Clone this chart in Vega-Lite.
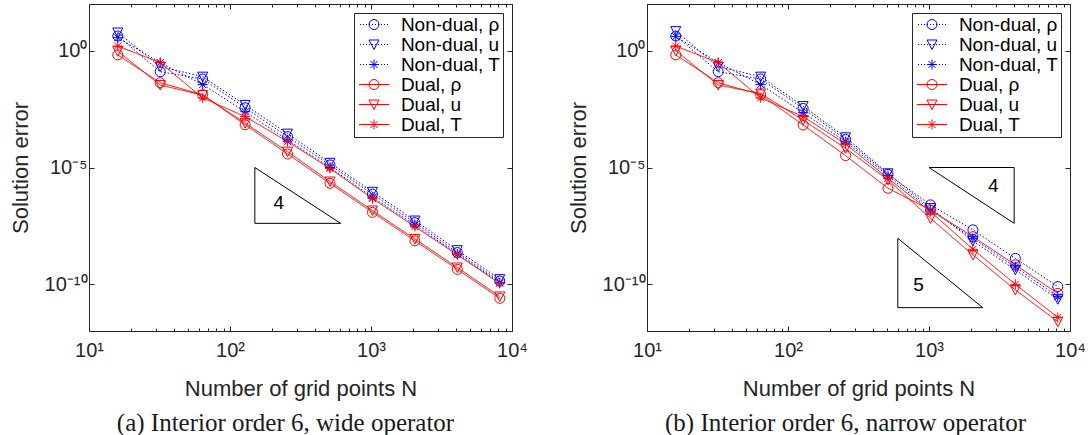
{
 "$schema": "https://vega.github.io/schema/vega-lite/v6.json",
 "autosize": {"type": "pad"},
 "padding": {"left": 8, "top": 3, "right": 5, "bottom": 2},
 "background": "white",
 "datasets": {
  "errs": [
   {"p":"a","s":"Non-dual, ρ","N":16,"e":4.266},{"p":"a","s":"Non-dual, ρ","N":32,"e":1.259e-1},{"p":"a","s":"Non-dual, ρ","N":64,"e":6.166e-2},{"p":"a","s":"Non-dual, ρ","N":128,"e":3.631e-3},{"p":"a","s":"Non-dual, ρ","N":256,"e":2.089e-4},{"p":"a","s":"Non-dual, ρ","N":512,"e":1.288e-5},{"p":"a","s":"Non-dual, ρ","N":1024,"e":7.244e-7},{"p":"a","s":"Non-dual, ρ","N":2048,"e":4.365e-8},{"p":"a","s":"Non-dual, ρ","N":4096,"e":2.291e-9},{"p":"a","s":"Non-dual, ρ","N":8192,"e":1.380e-10},
   {"p":"a","s":"Non-dual, u","N":16,"e":6.026},{"p":"a","s":"Non-dual, u","N":32,"e":2.089e-1},{"p":"a","s":"Non-dual, u","N":64,"e":7.762e-2},{"p":"a","s":"Non-dual, u","N":128,"e":4.786e-3},{"p":"a","s":"Non-dual, u","N":256,"e":2.818e-4},{"p":"a","s":"Non-dual, u","N":512,"e":1.585e-5},{"p":"a","s":"Non-dual, u","N":1024,"e":9.120e-7},{"p":"a","s":"Non-dual, u","N":2048,"e":5.370e-8},{"p":"a","s":"Non-dual, u","N":4096,"e":2.884e-9},{"p":"a","s":"Non-dual, u","N":8192,"e":1.660e-10},
   {"p":"a","s":"Non-dual, T","N":16,"e":3.631},{"p":"a","s":"Non-dual, T","N":32,"e":3.090e-1},{"p":"a","s":"Non-dual, T","N":64,"e":3.548e-2},{"p":"a","s":"Non-dual, T","N":128,"e":2.455e-3},{"p":"a","s":"Non-dual, T","N":256,"e":1.514e-4},{"p":"a","s":"Non-dual, T","N":512,"e":1.0e-5},{"p":"a","s":"Non-dual, T","N":1024,"e":5.370e-7},{"p":"a","s":"Non-dual, T","N":2048,"e":3.467e-8},{"p":"a","s":"Non-dual, T","N":4096,"e":1.995e-9},{"p":"a","s":"Non-dual, T","N":8192,"e":1.175e-10},
   {"p":"a","s":"Dual, ρ","N":16,"e":6.607e-1},{"p":"a","s":"Dual, ρ","N":32,"e":4.266e-2},{"p":"a","s":"Dual, ρ","N":64,"e":1.318e-2},{"p":"a","s":"Dual, ρ","N":128,"e":6.761e-4},{"p":"a","s":"Dual, ρ","N":256,"e":3.802e-5},{"p":"a","s":"Dual, ρ","N":512,"e":2.089e-6},{"p":"a","s":"Dual, ρ","N":1024,"e":1.202e-7},{"p":"a","s":"Dual, ρ","N":2048,"e":7.244e-9},{"p":"a","s":"Dual, ρ","N":4096,"e":4.365e-10},{"p":"a","s":"Dual, ρ","N":8192,"e":2.512e-11},
   {"p":"a","s":"Dual, u","N":16,"e":9.550e-1},{"p":"a","s":"Dual, u","N":32,"e":3.388e-2},{"p":"a","s":"Dual, u","N":64,"e":1.259e-2},{"p":"a","s":"Dual, u","N":128,"e":7.943e-4},{"p":"a","s":"Dual, u","N":256,"e":4.786e-5},{"p":"a","s":"Dual, u","N":512,"e":2.512e-6},{"p":"a","s":"Dual, u","N":1024,"e":1.445e-7},{"p":"a","s":"Dual, u","N":2048,"e":8.710e-9},{"p":"a","s":"Dual, u","N":4096,"e":5.248e-10},{"p":"a","s":"Dual, u","N":8192,"e":3.020e-11},
   {"p":"a","s":"Dual, T","N":16,"e":1.585},{"p":"a","s":"Dual, T","N":32,"e":3.090e-1},{"p":"a","s":"Dual, T","N":64,"e":9.550e-3},{"p":"a","s":"Dual, T","N":128,"e":1.514e-3},{"p":"a","s":"Dual, T","N":256,"e":1.288e-4},{"p":"a","s":"Dual, T","N":512,"e":9.120e-6},{"p":"a","s":"Dual, T","N":1024,"e":4.677e-7},{"p":"a","s":"Dual, T","N":2048,"e":2.951e-8},{"p":"a","s":"Dual, T","N":4096,"e":1.820e-9},{"p":"a","s":"Dual, T","N":8192,"e":1.096e-10},
   {"p":"b","s":"Non-dual, ρ","N":16,"e":4.266},{"p":"b","s":"Non-dual, ρ","N":32,"e":1.259e-1},{"p":"b","s":"Non-dual, ρ","N":64,"e":6.166e-2},{"p":"b","s":"Non-dual, ρ","N":128,"e":3.388e-3},{"p":"b","s":"Non-dual, ρ","N":256,"e":1.585e-4},{"p":"b","s":"Non-dual, ρ","N":512,"e":5.129e-6},{"p":"b","s":"Non-dual, ρ","N":1024,"e":2.512e-7},{"p":"b","s":"Non-dual, ρ","N":2048,"e":2.138e-8},{"p":"b","s":"Non-dual, ρ","N":4096,"e":1.288e-9},{"p":"b","s":"Non-dual, ρ","N":8192,"e":7.943e-11},
   {"p":"b","s":"Non-dual, u","N":16,"e":6.918},{"p":"b","s":"Non-dual, u","N":32,"e":2.089e-1},{"p":"b","s":"Non-dual, u","N":64,"e":7.762e-2},{"p":"b","s":"Non-dual, u","N":128,"e":4.266e-3},{"p":"b","s":"Non-dual, u","N":256,"e":1.950e-4},{"p":"b","s":"Non-dual, u","N":512,"e":5.623e-6},{"p":"b","s":"Non-dual, u","N":1024,"e":1.820e-7},{"p":"b","s":"Non-dual, u","N":2048,"e":7.244e-9},{"p":"b","s":"Non-dual, u","N":4096,"e":4.169e-10},{"p":"b","s":"Non-dual, u","N":8192,"e":2.291e-11},
   {"p":"b","s":"Non-dual, T","N":16,"e":3.981},{"p":"b","s":"Non-dual, T","N":32,"e":3.090e-1},{"p":"b","s":"Non-dual, T","N":64,"e":3.548e-2},{"p":"b","s":"Non-dual, T","N":128,"e":2.239e-3},{"p":"b","s":"Non-dual, T","N":256,"e":1.259e-4},{"p":"b","s":"Non-dual, T","N":512,"e":4.467e-6},{"p":"b","s":"Non-dual, T","N":1024,"e":1.514e-7},{"p":"b","s":"Non-dual, T","N":2048,"e":9.333e-9},{"p":"b","s":"Non-dual, T","N":4096,"e":5.495e-10},{"p":"b","s":"Non-dual, T","N":8192,"e":2.951e-11},
   {"p":"b","s":"Dual, ρ","N":16,"e":6.607e-1},{"p":"b","s":"Dual, ρ","N":32,"e":4.266e-2},{"p":"b","s":"Dual, ρ","N":64,"e":1.318e-2},{"p":"b","s":"Dual, ρ","N":128,"e":6.607e-4},{"p":"b","s":"Dual, ρ","N":256,"e":3.236e-5},{"p":"b","s":"Dual, ρ","N":512,"e":1.288e-6},{"p":"b","s":"Dual, ρ","N":1024,"e":1.514e-7},{"p":"b","s":"Dual, ρ","N":2048,"e":1.096e-8},{"p":"b","s":"Dual, ρ","N":4096,"e":6.761e-10},{"p":"b","s":"Dual, ρ","N":8192,"e":4.074e-11},
   {"p":"b","s":"Dual, u","N":16,"e":1.0},{"p":"b","s":"Dual, u","N":32,"e":3.388e-2},{"p":"b","s":"Dual, u","N":64,"e":1.479e-2},{"p":"b","s":"Dual, u","N":128,"e":1.072e-3},{"p":"b","s":"Dual, u","N":256,"e":6.607e-5},{"p":"b","s":"Dual, u","N":512,"e":2.951e-6},{"p":"b","s":"Dual, u","N":1024,"e":6.607e-8},{"p":"b","s":"Dual, u","N":2048,"e":1.820e-9},{"p":"b","s":"Dual, u","N":4096,"e":5.754e-11},{"p":"b","s":"Dual, u","N":8192,"e":2.512e-12},
   {"p":"b","s":"Dual, T","N":16,"e":1.585},{"p":"b","s":"Dual, T","N":32,"e":3.090e-1},{"p":"b","s":"Dual, T","N":64,"e":9.550e-3},{"p":"b","s":"Dual, T","N":128,"e":1.514e-3},{"p":"b","s":"Dual, T","N":256,"e":1.023e-4},{"p":"b","s":"Dual, T","N":512,"e":3.467e-6},{"p":"b","s":"Dual, T","N":1024,"e":1.288e-7},{"p":"b","s":"Dual, T","N":2048,"e":3.162e-9},{"p":"b","s":"Dual, T","N":4096,"e":1.0e-10},{"p":"b","s":"Dual, T","N":8192,"e":3.802e-12}
  ],
  "tri": [
   {"p":"a","x1":150,"y1":1e-5,"x2":150,"y2":4.07e-8},
   {"p":"a","x1":150,"y1":4.07e-8,"x2":609,"y2":4.07e-8},
   {"p":"a","x1":150,"y1":1e-5,"x2":609,"y2":4.07e-8},
   {"p":"b","x1":1000,"y1":1e-5,"x2":4018,"y2":1e-5},
   {"p":"b","x1":4018,"y1":1e-5,"x2":4018,"y2":4.07e-8},
   {"p":"b","x1":1000,"y1":1e-5,"x2":4018,"y2":4.07e-8},
   {"p":"b","x1":601,"y1":9.3e-9,"x2":601,"y2":1e-11},
   {"p":"b","x1":601,"y1":1e-11,"x2":2404,"y2":1e-11},
   {"p":"b","x1":601,"y1":9.3e-9,"x2":2404,"y2":1e-11}
  ],
  "lab": [
   {"p":"a","x":222,"y":2.95e-7,"t":"4"},
   {"p":"b","x":2858,"y":1.62e-6,"t":"4"},
   {"p":"b","x":843,"y":9.3e-11,"t":"5"}
  ]
 },
 "spacing": 135,
 "bounds": "flush",
 "resolve": {
  "scale": {"x": "independent", "y": "independent", "color": "independent", "shape": "independent", "strokeDash": "independent"},
  "legend": {"shape": "independent", "color": "independent", "strokeDash": "independent"}
 },
 "hconcat": [
  {
   "width": 423, "height": 327,
   "title": {"text": "(a) Interior order 6, wide operator", "orient": "bottom", "frame": "group", "anchor": "middle", "dx": -15, "offset": 12, "font": "Liberation Serif", "fontSize": 25, "fontWeight": "normal", "color": "#1a1a1a"},
   "resolve": {"axis": {"x": "independent", "y": "independent"}},
   "layer": [
    {
     "data": {"name": "errs"}, "transform": [{"filter": "datum.p=='a'"}],
     "mark": {"type": "line", "strokeWidth": 1},
     "encoding": {
      "x": {"field": "N", "type": "quantitative", "scale": {"type": "log", "domain": [10, 10000], "nice": false},
       "axis": {"orient": "bottom", "values": [10,20,30,40,50,60,70,80,90,100,200,300,400,500,600,700,800,900,1000,2000,3000,4000,5000,6000,7000,8000,9000,10000],
        "labelExpr": "datum.value==10?'10¹':datum.value==100?'10²':datum.value==1000?'10³':datum.value==10000?'10⁴':''",
        "tickSize": {"condition": {"test": "datum.value==10||datum.value==100||datum.value==1000||datum.value==10000", "value": -5}, "value": -3},
        "labelPadding": 14, "labelFlush": false, "labelBound": false, "labelOverlap": false,
        "title": "Number of grid points N", "titleY": 64, "titleBaseline": "alphabetic"}},
      "y": {"field": "e", "type": "quantitative", "scale": {"type": "log", "domain": [1e-12, 100], "nice": false},
       "axis": {"orient": "left", "values": [1, 1e-5, 1e-10],
        "labelExpr": "datum.value==1?'10⁰':datum.value<1e-7?'10⁻¹⁰':'10⁻⁵'",
        "tickSize": -5, "labelPadding": 7, "labelOverlap": false,
        "title": "Solution error", "titleX": -62, "titleY": 163.5, "titleBaseline": "alphabetic"}},
      "color": {"field": "s", "type": "nominal", "scale": {"domain": ["Non-dual, ρ","Non-dual, u","Non-dual, T","Dual, ρ","Dual, u","Dual, T"], "range": ["#0000ff","#0000ff","#0000ff","#ff0000","#ff0000","#ff0000"]}},
      "strokeDash": {"field": "s", "type": "nominal", "scale": {"domain": ["Dual, ρ","Dual, u","Dual, T","Non-dual, ρ","Non-dual, u","Non-dual, T"], "range": [[1,0],[1,0],[1,0],[1.5,2],[1.5,2],[1.5,2]]}, "legend": null}
     }
    },
    {
     "data": {"name": "errs"}, "transform": [{"filter": "datum.p=='a' && indexof(datum.s,'ρ')>0"}],
     "mark": {"type": "point", "filled": false, "size": 100, "strokeWidth": 1, "opacity": 1, "shape": "M1,0A1,1 0 1,1 -1,0A1,1 0 1,1 1,0Z"},
     "encoding": {
      "x": {"field": "N", "type": "quantitative", "scale": {"type": "log", "domain": [10, 10000], "nice": false},
       "axis": {"orient": "top", "values": [10,20,30,40,50,60,70,80,90,100,200,300,400,500,600,700,800,900,1000,2000,3000,4000,5000,6000,7000,8000,9000,10000], "labels": false, "title": null,
        "tickSize": {"condition": {"test": "datum.value==10||datum.value==100||datum.value==1000||datum.value==10000", "value": -5}, "value": -3}}},
      "y": {"field": "e", "type": "quantitative", "scale": {"type": "log", "domain": [1e-12, 100], "nice": false},
       "axis": {"orient": "right", "values": [1, 1e-5, 1e-10], "labels": false, "title": null, "tickSize": -5}},
      "color": {"field": "s", "type": "nominal", "scale": {"domain": ["Non-dual, ρ","Non-dual, u","Non-dual, T","Dual, ρ","Dual, u","Dual, T"], "range": ["#0000ff","#0000ff","#0000ff","#ff0000","#ff0000","#ff0000"]}}
     }
    },
    {
     "data": {"name": "errs"}, "transform": [{"filter": "datum.p=='a' && indexof(datum.s,', u')>0"}],
     "mark": {"type": "point", "filled": false, "size": 100, "strokeWidth": 1, "opacity": 1, "shape": "M-1,-0.9L1,-0.9L0,1Z"},
     "encoding": {
      "x": {"field": "N", "type": "quantitative", "scale": {"type": "log", "domain": [10, 10000], "nice": false}, "axis": null},
      "y": {"field": "e", "type": "quantitative", "scale": {"type": "log", "domain": [1e-12, 100], "nice": false}, "axis": null},
      "color": {"field": "s", "type": "nominal", "scale": {"domain": ["Non-dual, ρ","Non-dual, u","Non-dual, T","Dual, ρ","Dual, u","Dual, T"], "range": ["#0000ff","#0000ff","#0000ff","#ff0000","#ff0000","#ff0000"]}}
     }
    },
    {
     "data": {"name": "errs"}, "transform": [{"filter": "datum.p=='a' && indexof(datum.s,', T')>0"}],
     "mark": {"type": "point", "filled": false, "size": 100, "strokeWidth": 1, "opacity": 1, "shape": "M0,-1L0,1M-1,0L1,0M-0.7,-0.7L0.7,0.7M-0.7,0.7L0.7,-0.7"},
     "encoding": {
      "x": {"field": "N", "type": "quantitative", "scale": {"type": "log", "domain": [10, 10000], "nice": false}, "axis": null},
      "y": {"field": "e", "type": "quantitative", "scale": {"type": "log", "domain": [1e-12, 100], "nice": false}, "axis": null},
      "color": {"field": "s", "type": "nominal", "scale": {"domain": ["Non-dual, ρ","Non-dual, u","Non-dual, T","Dual, ρ","Dual, u","Dual, T"], "range": ["#0000ff","#0000ff","#0000ff","#ff0000","#ff0000","#ff0000"]}}
     }
    },
    {
     "data": {"name": "errs"}, "transform": [{"filter": "datum.p=='a' && datum.N==16"}],
     "mark": {"type": "point", "filled": false, "size": 100, "strokeWidth": 1, "opacity": 0},
     "encoding": {
      "x": {"field": "N", "type": "quantitative", "scale": {"type": "log", "domain": [10, 10000], "nice": false}, "axis": null},
      "y": {"field": "e", "type": "quantitative", "scale": {"type": "log", "domain": [1e-12, 100], "nice": false}, "axis": null},
      "color": {"field": "s", "type": "nominal", "scale": {"domain": ["Non-dual, ρ","Non-dual, u","Non-dual, T","Dual, ρ","Dual, u","Dual, T"], "range": ["#0000ff","#0000ff","#0000ff","#ff0000","#ff0000","#ff0000"]},
       "legend": {"title": null, "orient": "top-right", "offset": 9, "padding": 2, "strokeColor": "#262626", "fillColor": "white", "labelFont": "Liberation Sans", "labelFontSize": 19, "labelColor": "black", "symbolSize": 100, "symbolOffset": 8.5, "labelOffset": 17.4, "rowPadding": 0, "symbolStrokeWidth": 1, "symbolOpacity": 1}},
      "shape": {"field": "s", "type": "nominal",
       "scale": {"domain": ["Non-dual, ρ","Non-dual, u","Non-dual, T","Dual, ρ","Dual, u","Dual, T"],
        "range": [
         "M-2.8,0L-2.6,0M-2.2,0L-2,0M-1.6,0L-1.4,0M-1,0L-0.8,0M-0.4,0L-0.2,0M0.2,0L0.4,0M0.8,0L1,0M1.4,0L1.6,0M2,0L2.2,0M2.6,0L2.8,0M1,0A1,1 0 1,1 -1,0A1,1 0 1,1 1,0Z",
         "M-2.8,0L-2.6,0M-2.2,0L-2,0M-1.6,0L-1.4,0M-1,0L-0.8,0M-0.4,0L-0.2,0M0.2,0L0.4,0M0.8,0L1,0M1.4,0L1.6,0M2,0L2.2,0M2.6,0L2.8,0M-1,-0.9L1,-0.9L0,1Z",
         "M-2.8,0L-2.6,0M-2.2,0L-2,0M-1.6,0L-1.4,0M-1,0L-0.8,0M-0.4,0L-0.2,0M0.2,0L0.4,0M0.8,0L1,0M1.4,0L1.6,0M2,0L2.2,0M2.6,0L2.8,0M0,-1L0,1M-1,0L1,0M-0.7,-0.7L0.7,0.7M-0.7,0.7L0.7,-0.7",
         "M-3,0L3,0M1,0A1,1 0 1,1 -1,0A1,1 0 1,1 1,0Z",
         "M-3,0L3,0M-1,-0.9L1,-0.9L0,1Z",
         "M-3,0L3,0M0,-1L0,1M-1,0L1,0M-0.7,-0.7L0.7,0.7M-0.7,0.7L0.7,-0.7"]},
       "legend": {"title": null, "orient": "top-right", "offset": 9, "padding": 2, "strokeColor": "#262626", "fillColor": "white", "labelFont": "Liberation Sans", "labelFontSize": 19, "labelColor": "black", "symbolSize": 100, "symbolOffset": 8.5, "labelOffset": 17.4, "rowPadding": 0, "symbolStrokeWidth": 1, "symbolOpacity": 1}}
     }
    },
    {
     "data": {"name": "tri"}, "transform": [{"filter": "datum.p=='a'"}],
     "mark": {"type": "rule", "color": "black", "strokeWidth": 1},
     "encoding": {
      "x": {"field": "x1", "type": "quantitative", "scale": {"type": "log", "domain": [10, 10000], "nice": false}, "axis": null},
      "x2": {"field": "x2"},
      "y": {"field": "y1", "type": "quantitative", "scale": {"type": "log", "domain": [1e-12, 100], "nice": false}, "axis": null},
      "y2": {"field": "y2"}
     }
    },
    {
     "data": {"name": "lab"}, "transform": [{"filter": "datum.p=='a'"}],
     "mark": {"type": "text", "font": "Liberation Sans", "fontSize": 19, "color": "black"},
     "encoding": {
      "x": {"field": "x", "type": "quantitative", "scale": {"type": "log", "domain": [10, 10000], "nice": false}, "axis": null},
      "y": {"field": "y", "type": "quantitative", "scale": {"type": "log", "domain": [1e-12, 100], "nice": false}, "axis": null},
      "text": {"field": "t"}
     }
    }
   ]
  },
  {
   "width": 423, "height": 327,
   "title": {"text": "(b) Interior order 6, narrow operator", "orient": "bottom", "frame": "group", "anchor": "middle", "dx": -13, "offset": 12, "font": "Liberation Serif", "fontSize": 25, "fontWeight": "normal", "color": "#1a1a1a"},
   "resolve": {"axis": {"x": "independent", "y": "independent"}},
   "layer": [
    {
     "data": {"name": "errs"}, "transform": [{"filter": "datum.p=='b'"}],
     "mark": {"type": "line", "strokeWidth": 1},
     "encoding": {
      "x": {"field": "N", "type": "quantitative", "scale": {"type": "log", "domain": [10, 10000], "nice": false},
       "axis": {"orient": "bottom", "values": [10,20,30,40,50,60,70,80,90,100,200,300,400,500,600,700,800,900,1000,2000,3000,4000,5000,6000,7000,8000,9000,10000],
        "labelExpr": "datum.value==10?'10¹':datum.value==100?'10²':datum.value==1000?'10³':datum.value==10000?'10⁴':''",
        "tickSize": {"condition": {"test": "datum.value==10||datum.value==100||datum.value==1000||datum.value==10000", "value": -5}, "value": -3},
        "labelPadding": 14, "labelFlush": false, "labelBound": false, "labelOverlap": false,
        "title": "Number of grid points N", "titleY": 64, "titleBaseline": "alphabetic"}},
      "y": {"field": "e", "type": "quantitative", "scale": {"type": "log", "domain": [1e-12, 100], "nice": false},
       "axis": {"orient": "left", "values": [1, 1e-5, 1e-10],
        "labelExpr": "datum.value==1?'10⁰':datum.value<1e-7?'10⁻¹⁰':'10⁻⁵'",
        "tickSize": -5, "labelPadding": 7, "labelOverlap": false,
        "title": "Solution error", "titleX": -62, "titleY": 163.5, "titleBaseline": "alphabetic"}},
      "color": {"field": "s", "type": "nominal", "scale": {"domain": ["Non-dual, ρ","Non-dual, u","Non-dual, T","Dual, ρ","Dual, u","Dual, T"], "range": ["#0000ff","#0000ff","#0000ff","#ff0000","#ff0000","#ff0000"]}},
      "strokeDash": {"field": "s", "type": "nominal", "scale": {"domain": ["Dual, ρ","Dual, u","Dual, T","Non-dual, ρ","Non-dual, u","Non-dual, T"], "range": [[1,0],[1,0],[1,0],[1.5,2],[1.5,2],[1.5,2]]}, "legend": null}
     }
    },
    {
     "data": {"name": "errs"}, "transform": [{"filter": "datum.p=='b' && indexof(datum.s,'ρ')>0"}],
     "mark": {"type": "point", "filled": false, "size": 100, "strokeWidth": 1, "opacity": 1, "shape": "M1,0A1,1 0 1,1 -1,0A1,1 0 1,1 1,0Z"},
     "encoding": {
      "x": {"field": "N", "type": "quantitative", "scale": {"type": "log", "domain": [10, 10000], "nice": false},
       "axis": {"orient": "top", "values": [10,20,30,40,50,60,70,80,90,100,200,300,400,500,600,700,800,900,1000,2000,3000,4000,5000,6000,7000,8000,9000,10000], "labels": false, "title": null,
        "tickSize": {"condition": {"test": "datum.value==10||datum.value==100||datum.value==1000||datum.value==10000", "value": -5}, "value": -3}}},
      "y": {"field": "e", "type": "quantitative", "scale": {"type": "log", "domain": [1e-12, 100], "nice": false},
       "axis": {"orient": "right", "values": [1, 1e-5, 1e-10], "labels": false, "title": null, "tickSize": -5}},
      "color": {"field": "s", "type": "nominal", "scale": {"domain": ["Non-dual, ρ","Non-dual, u","Non-dual, T","Dual, ρ","Dual, u","Dual, T"], "range": ["#0000ff","#0000ff","#0000ff","#ff0000","#ff0000","#ff0000"]}}
     }
    },
    {
     "data": {"name": "errs"}, "transform": [{"filter": "datum.p=='b' && indexof(datum.s,', u')>0"}],
     "mark": {"type": "point", "filled": false, "size": 100, "strokeWidth": 1, "opacity": 1, "shape": "M-1,-0.9L1,-0.9L0,1Z"},
     "encoding": {
      "x": {"field": "N", "type": "quantitative", "scale": {"type": "log", "domain": [10, 10000], "nice": false}, "axis": null},
      "y": {"field": "e", "type": "quantitative", "scale": {"type": "log", "domain": [1e-12, 100], "nice": false}, "axis": null},
      "color": {"field": "s", "type": "nominal", "scale": {"domain": ["Non-dual, ρ","Non-dual, u","Non-dual, T","Dual, ρ","Dual, u","Dual, T"], "range": ["#0000ff","#0000ff","#0000ff","#ff0000","#ff0000","#ff0000"]}}
     }
    },
    {
     "data": {"name": "errs"}, "transform": [{"filter": "datum.p=='b' && indexof(datum.s,', T')>0"}],
     "mark": {"type": "point", "filled": false, "size": 100, "strokeWidth": 1, "opacity": 1, "shape": "M0,-1L0,1M-1,0L1,0M-0.7,-0.7L0.7,0.7M-0.7,0.7L0.7,-0.7"},
     "encoding": {
      "x": {"field": "N", "type": "quantitative", "scale": {"type": "log", "domain": [10, 10000], "nice": false}, "axis": null},
      "y": {"field": "e", "type": "quantitative", "scale": {"type": "log", "domain": [1e-12, 100], "nice": false}, "axis": null},
      "color": {"field": "s", "type": "nominal", "scale": {"domain": ["Non-dual, ρ","Non-dual, u","Non-dual, T","Dual, ρ","Dual, u","Dual, T"], "range": ["#0000ff","#0000ff","#0000ff","#ff0000","#ff0000","#ff0000"]}}
     }
    },
    {
     "data": {"name": "errs"}, "transform": [{"filter": "datum.p=='b' && datum.N==16"}],
     "mark": {"type": "point", "filled": false, "size": 100, "strokeWidth": 1, "opacity": 0},
     "encoding": {
      "x": {"field": "N", "type": "quantitative", "scale": {"type": "log", "domain": [10, 10000], "nice": false}, "axis": null},
      "y": {"field": "e", "type": "quantitative", "scale": {"type": "log", "domain": [1e-12, 100], "nice": false}, "axis": null},
      "color": {"field": "s", "type": "nominal", "scale": {"domain": ["Non-dual, ρ","Non-dual, u","Non-dual, T","Dual, ρ","Dual, u","Dual, T"], "range": ["#0000ff","#0000ff","#0000ff","#ff0000","#ff0000","#ff0000"]},
       "legend": {"title": null, "orient": "top-right", "offset": 9, "padding": 2, "strokeColor": "#262626", "fillColor": "white", "labelFont": "Liberation Sans", "labelFontSize": 19, "labelColor": "black", "symbolSize": 100, "symbolOffset": 8.5, "labelOffset": 17.4, "rowPadding": 0, "symbolStrokeWidth": 1, "symbolOpacity": 1}},
      "shape": {"field": "s", "type": "nominal",
       "scale": {"domain": ["Non-dual, ρ","Non-dual, u","Non-dual, T","Dual, ρ","Dual, u","Dual, T"],
        "range": [
         "M-2.8,0L-2.6,0M-2.2,0L-2,0M-1.6,0L-1.4,0M-1,0L-0.8,0M-0.4,0L-0.2,0M0.2,0L0.4,0M0.8,0L1,0M1.4,0L1.6,0M2,0L2.2,0M2.6,0L2.8,0M1,0A1,1 0 1,1 -1,0A1,1 0 1,1 1,0Z",
         "M-2.8,0L-2.6,0M-2.2,0L-2,0M-1.6,0L-1.4,0M-1,0L-0.8,0M-0.4,0L-0.2,0M0.2,0L0.4,0M0.8,0L1,0M1.4,0L1.6,0M2,0L2.2,0M2.6,0L2.8,0M-1,-0.9L1,-0.9L0,1Z",
         "M-2.8,0L-2.6,0M-2.2,0L-2,0M-1.6,0L-1.4,0M-1,0L-0.8,0M-0.4,0L-0.2,0M0.2,0L0.4,0M0.8,0L1,0M1.4,0L1.6,0M2,0L2.2,0M2.6,0L2.8,0M0,-1L0,1M-1,0L1,0M-0.7,-0.7L0.7,0.7M-0.7,0.7L0.7,-0.7",
         "M-3,0L3,0M1,0A1,1 0 1,1 -1,0A1,1 0 1,1 1,0Z",
         "M-3,0L3,0M-1,-0.9L1,-0.9L0,1Z",
         "M-3,0L3,0M0,-1L0,1M-1,0L1,0M-0.7,-0.7L0.7,0.7M-0.7,0.7L0.7,-0.7"]},
       "legend": {"title": null, "orient": "top-right", "offset": 9, "padding": 2, "strokeColor": "#262626", "fillColor": "white", "labelFont": "Liberation Sans", "labelFontSize": 19, "labelColor": "black", "symbolSize": 100, "symbolOffset": 8.5, "labelOffset": 17.4, "rowPadding": 0, "symbolStrokeWidth": 1, "symbolOpacity": 1}}
     }
    },
    {
     "data": {"name": "tri"}, "transform": [{"filter": "datum.p=='b'"}],
     "mark": {"type": "rule", "color": "black", "strokeWidth": 1},
     "encoding": {
      "x": {"field": "x1", "type": "quantitative", "scale": {"type": "log", "domain": [10, 10000], "nice": false}, "axis": null},
      "x2": {"field": "x2"},
      "y": {"field": "y1", "type": "quantitative", "scale": {"type": "log", "domain": [1e-12, 100], "nice": false}, "axis": null},
      "y2": {"field": "y2"}
     }
    },
    {
     "data": {"name": "lab"}, "transform": [{"filter": "datum.p=='b'"}],
     "mark": {"type": "text", "font": "Liberation Sans", "fontSize": 19, "color": "black"},
     "encoding": {
      "x": {"field": "x", "type": "quantitative", "scale": {"type": "log", "domain": [10, 10000], "nice": false}, "axis": null},
      "y": {"field": "y", "type": "quantitative", "scale": {"type": "log", "domain": [1e-12, 100], "nice": false}, "axis": null},
      "text": {"field": "t"}
     }
    }
   ]
  }
 ],
 "config": {
  "font": "Liberation Sans",
  "view": {"stroke": "#262626", "strokeWidth": 1},
  "axis": {"grid": false, "domain": false, "tickColor": "#262626", "tickWidth": 1, "labelColor": "#262626", "labelFont": "Liberation Sans", "labelFontSize": 20, "titleFont": "Liberation Sans", "titleFontSize": 22, "titleFontWeight": "normal", "titleColor": "#262626"}
 }
}
